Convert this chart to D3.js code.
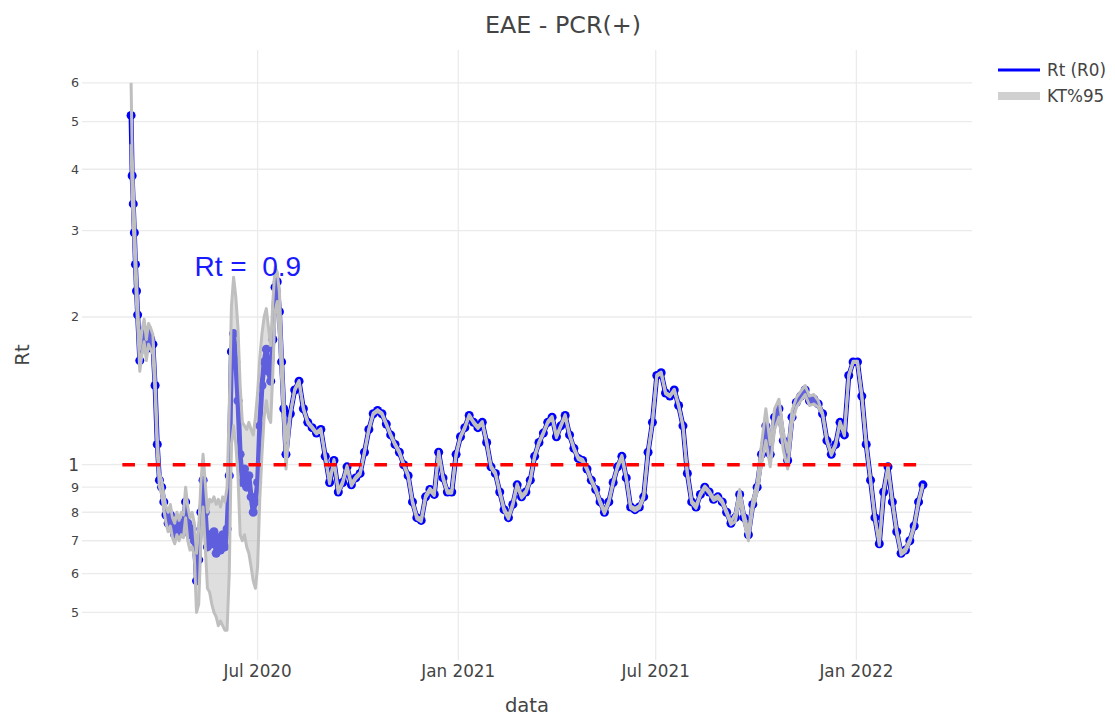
<!DOCTYPE html>
<html>
<head>
<meta charset="utf-8">
<script src="https://cdn.jsdelivr.net/npm/d3@7.9.0/dist/d3.min.js"></script>
<style>
  body { margin: 0; background: #fff; }
  svg text { font-family: "DejaVu Sans", Verdana, sans-serif; fill: #444; }
</style>
</head>
<body>
<svg id="chart" width="1115" height="715"></svg>
<script>
// daily at the start, then every 2 days, then every 4 days
const dates = [
  '2020-03-07','2020-03-08','2020-03-09','2020-03-10','2020-03-11','2020-03-12','2020-03-13','2020-03-15','2020-03-17','2020-03-19','2020-03-21','2020-03-23','2020-03-25','2020-03-27','2020-03-29','2020-03-31',
  '2020-04-02','2020-04-04','2020-04-06','2020-04-08','2020-04-10','2020-04-12','2020-04-14','2020-04-16','2020-04-18','2020-04-20','2020-04-22','2020-04-24','2020-04-26','2020-04-28','2020-04-30',
  '2020-05-02','2020-05-04','2020-05-06','2020-05-08','2020-05-10','2020-05-12','2020-05-14','2020-05-16','2020-05-18','2020-05-20','2020-05-22','2020-05-24','2020-05-26','2020-05-28','2020-05-30',
  '2020-06-01','2020-06-03','2020-06-05','2020-06-07','2020-06-09','2020-06-11','2020-06-13','2020-06-15','2020-06-17','2020-06-19','2020-06-21','2020-06-23','2020-06-25','2020-06-27','2020-06-29',
  '2020-07-01','2020-07-03','2020-07-05','2020-07-07','2020-07-09','2020-07-11','2020-07-13','2020-07-15','2020-07-17','2020-07-19','2020-07-21','2020-07-23','2020-07-25','2020-07-27','2020-07-31',
  '2020-08-04','2020-08-08','2020-08-12','2020-08-16','2020-08-20','2020-08-24','2020-08-28',
  '2020-09-01','2020-09-05','2020-09-09','2020-09-13','2020-09-17','2020-09-21','2020-09-25','2020-09-29',
  '2020-10-03','2020-10-07','2020-10-11','2020-10-15','2020-10-19','2020-10-23','2020-10-27','2020-10-31',
  '2020-11-04','2020-11-08','2020-11-12','2020-11-16','2020-11-20','2020-11-24','2020-11-28',
  '2020-12-02','2020-12-06','2020-12-10','2020-12-14','2020-12-18','2020-12-22','2020-12-26','2020-12-30',
  '2021-01-03','2021-01-07','2021-01-11','2021-01-15','2021-01-19','2021-01-23','2021-01-27','2021-01-31',
  '2021-02-04','2021-02-08','2021-02-12','2021-02-16','2021-02-20','2021-02-24','2021-02-28',
  '2021-03-04','2021-03-08','2021-03-12','2021-03-16','2021-03-20','2021-03-24','2021-03-28',
  '2021-04-01','2021-04-05','2021-04-09','2021-04-13','2021-04-17','2021-04-21','2021-04-25','2021-04-29',
  '2021-05-03','2021-05-07','2021-05-11','2021-05-15','2021-05-19','2021-05-23','2021-05-27','2021-05-31',
  '2021-06-04','2021-06-08','2021-06-12','2021-06-16','2021-06-20','2021-06-24','2021-06-28',
  '2021-07-02','2021-07-06','2021-07-10','2021-07-14','2021-07-18','2021-07-22','2021-07-26','2021-07-30',
  '2021-08-03','2021-08-07','2021-08-11','2021-08-15','2021-08-19','2021-08-23','2021-08-27','2021-08-31',
  '2021-09-04','2021-09-08','2021-09-12','2021-09-16','2021-09-20','2021-09-24','2021-09-28',
  '2021-10-02','2021-10-06','2021-10-10','2021-10-14','2021-10-18','2021-10-22','2021-10-26','2021-10-30',
  '2021-11-03','2021-11-07','2021-11-11','2021-11-15','2021-11-19','2021-11-23','2021-11-27',
  '2021-12-01','2021-12-05','2021-12-09','2021-12-13','2021-12-17','2021-12-21','2021-12-25','2021-12-29',
  '2022-01-02','2022-01-06','2022-01-10','2022-01-14','2022-01-18','2022-01-22','2022-01-26','2022-01-30',
  '2022-02-03','2022-02-07','2022-02-11','2022-02-15','2022-02-19','2022-02-23','2022-02-27',
  '2022-03-03'
];

const rt = [
  5.15,3.88,3.40,2.97,2.56,2.26,2.02,1.63,1.78,1.88,1.72,1.85,1.80,1.76,1.45,1.10,
  0.93,0.90,0.84,0.79,0.76,0.79,0.74,0.72,0.76,0.73,0.76,0.75,0.84,0.76,0.72,
  0.74,0.70,0.58,0.64,0.80,0.93,0.80,0.68,0.72,0.69,0.73,0.66,0.71,0.67,0.72,
  0.68,0.74,0.95,1.70,1.85,1.62,1.35,1.05,0.92,0.98,0.90,0.95,0.86,0.80,0.84,
  0.92,1.20,1.45,1.62,1.72,1.55,1.48,1.80,2.30,2.36,2.05,1.62,1.30,1.05,1.27,
  1.42,1.48,1.30,1.22,1.19,1.16,1.18,
  1.04,0.92,1.02,0.88,0.92,0.99,0.91,0.94,
  0.96,1.06,1.18,1.27,1.29,1.27,1.21,1.15,
  1.10,1.06,1.00,0.95,0.84,0.78,0.77,
  0.86,0.89,0.87,1.06,0.94,0.88,0.88,1.05,
  1.14,1.19,1.26,1.22,1.19,1.22,1.11,0.99,
  0.96,0.88,0.81,0.78,0.83,0.91,0.86,
  0.88,0.93,1.04,1.11,1.16,1.22,1.25,
  1.14,1.20,1.26,1.15,1.08,1.03,1.02,0.98,
  0.93,0.89,0.84,0.80,0.84,0.92,0.99,1.04,
  0.94,0.82,0.81,0.82,0.86,1.06,1.22,
  1.52,1.54,1.40,1.38,1.42,1.32,1.20,0.96,
  0.84,0.82,0.87,0.90,0.88,0.85,0.86,0.84,
  0.80,0.76,0.78,0.87,0.78,0.72,0.83,
  0.90,1.05,1.20,1.05,1.25,1.30,1.12,1.02,
  1.25,1.34,1.38,1.42,1.35,1.36,1.33,
  1.27,1.12,1.05,1.10,1.22,1.15,1.52,1.62,
  1.62,1.38,1.10,0.93,0.78,0.69,0.88,0.99,
  0.84,0.73,0.66,0.67,0.70,0.75,0.84,
  0.91
];

const ciLow = [
  4.50,3.50,3.10,2.75,2.40,2.12,1.92,1.55,1.68,1.78,1.63,1.76,1.72,1.68,1.40,1.06,
  0.90,0.87,0.81,0.76,0.73,0.75,0.71,0.69,0.72,0.70,0.72,0.71,0.78,0.70,0.67,
  0.68,0.65,0.50,0.52,0.70,0.82,0.68,0.56,0.55,0.52,0.50,0.49,0.47,0.48,0.47,
  0.46,0.46,0.60,1.10,1.20,1.10,0.95,0.72,0.70,0.72,0.68,0.66,0.62,0.58,0.56,
  0.62,0.85,1.05,1.25,1.35,1.25,1.22,1.55,2.05,2.15,1.85,1.50,1.22,0.98,1.265,
  1.415,1.475,1.295,1.215,1.185,1.155,1.175,
  1.035,0.915,1.015,0.875,0.915,0.985,0.905,0.935,
  0.955,1.055,1.175,1.265,1.285,1.265,1.205,1.145,
  1.095,1.055,0.995,0.945,0.835,0.775,0.765,
  0.855,0.885,0.865,1.055,0.935,0.875,0.875,1.045,
  1.135,1.185,1.255,1.215,1.185,1.215,1.105,0.985,
  0.955,0.875,0.805,0.775,0.825,0.905,0.855,
  0.875,0.925,1.035,1.105,1.155,1.215,1.245,
  1.135,1.195,1.255,1.145,1.075,1.025,1.015,0.975,
  0.925,0.885,0.835,0.795,0.835,0.915,0.985,1.035,
  0.935,0.815,0.805,0.815,0.855,1.055,1.215,
  1.515,1.535,1.395,1.375,1.415,1.315,1.195,0.955,
  0.835,0.815,0.865,0.895,0.875,0.845,0.855,0.835,
  0.795,0.755,0.765,0.85,0.765,0.70,0.815,
  0.88,1.00,1.12,0.99,1.18,1.25,1.07,0.98,
  1.21,1.31,1.35,1.39,1.32,1.33,1.31,
  1.265,1.115,1.045,1.095,1.215,1.145,1.515,1.615,
  1.615,1.375,1.095,0.925,0.775,0.685,0.875,0.985,
  0.835,0.725,0.655,0.665,0.695,0.745,0.835,
  0.905
];

const ciHigh = [
  6.00,4.30,3.70,3.20,2.75,2.40,2.12,1.72,1.88,1.98,1.80,1.94,1.90,1.84,1.52,1.14,
  0.96,0.93,0.87,0.82,0.80,0.83,0.78,0.76,0.80,0.77,0.80,0.79,0.90,0.82,0.78,
  0.80,0.76,0.66,0.74,0.92,1.05,0.92,0.80,0.85,0.84,0.86,0.83,0.85,0.82,0.86,
  0.84,0.90,1.30,2.10,2.41,2.20,1.90,1.45,1.22,1.20,1.18,1.22,1.18,1.15,1.25,
  1.40,1.65,1.85,2.00,2.08,1.90,1.75,2.15,2.53,2.47,2.25,1.75,1.38,1.12,1.275,
  1.425,1.485,1.305,1.225,1.195,1.165,1.185,
  1.045,0.925,1.025,0.885,0.925,0.995,0.915,0.945,
  0.965,1.065,1.185,1.275,1.295,1.275,1.215,1.155,
  1.105,1.065,1.005,0.955,0.845,0.785,0.775,
  0.865,0.895,0.875,1.065,0.945,0.885,0.885,1.055,
  1.145,1.195,1.265,1.225,1.195,1.225,1.115,0.995,
  0.965,0.885,0.815,0.785,0.835,0.915,0.865,
  0.885,0.935,1.045,1.115,1.165,1.225,1.255,
  1.145,1.205,1.265,1.155,1.085,1.035,1.025,0.985,
  0.935,0.895,0.845,0.805,0.845,0.925,0.995,1.045,
  0.945,0.825,0.815,0.825,0.865,1.065,1.225,
  1.525,1.545,1.405,1.385,1.425,1.325,1.205,0.965,
  0.845,0.825,0.875,0.905,0.885,0.855,0.865,0.845,
  0.805,0.765,0.795,0.89,0.795,0.73,0.845,
  0.92,1.10,1.30,1.10,1.30,1.36,1.17,1.06,
  1.29,1.37,1.41,1.45,1.38,1.39,1.35,
  1.275,1.125,1.055,1.105,1.225,1.155,1.525,1.625,
  1.625,1.385,1.105,0.935,0.785,0.695,0.885,0.995,
  0.845,0.735,0.665,0.675,0.705,0.755,0.845,
  0.915
];

// reference line Rt = 1
const refDates = ['2020-02-28', '2022-03-03'];
const refValues = [1, 1];

const xDomain = ['2020-01-22', '2022-04-17'];
const yDomain = [0.4, 7];
const xTicks = ['2020-07-01', '2021-01-01', '2021-07-01', '2022-01-01'];
const xTickLabels = ['Jul 2020', 'Jan 2021', 'Jul 2021', 'Jan 2022'];
const yTicks = [0.5, 0.6, 0.7, 0.8, 0.9, 1, 2, 3, 4, 5, 6];
const yTickLabels = ['5', '6', '7', '8', '9', '1', '2', '3', '4', '5', '6'];

const noteDate = '2020-06-22';
const noteValue = 2.54;
const noteText = 'Rt =  0.9';

const parse = d3.utcParse('%Y-%m-%d');
const svg = d3.select('#chart');

const x = d3.scaleUtc().domain(xDomain.map(parse)).range([82, 972]);
const y = d3.scaleLog().domain(yDomain).range([660, 50]);

if (rt.length !== dates.length || ciLow.length !== dates.length || ciHigh.length !== dates.length) {
  console.error('length mismatch', dates.length, rt.length, ciLow.length, ciHigh.length);
}

const points = dates.map((d, i) => ({ date: parse(d), rt: rt[i], lo: ciLow[i], hi: ciHigh[i] }));

// grid
svg.append('g')
  .selectAll('line')
  .data(yTicks)
  .join('line')
  .attr('x1', 82).attr('x2', 972)
  .attr('y1', (d) => y(d)).attr('y2', (d) => y(d))
  .attr('stroke', '#ebebeb').attr('stroke-width', 1.3);

svg.append('g')
  .selectAll('line')
  .data(xTicks)
  .join('line')
  .attr('x1', (d) => x(parse(d))).attr('x2', (d) => x(parse(d)))
  .attr('y1', 50).attr('y2', 660)
  .attr('stroke', '#ebebeb').attr('stroke-width', 1.3);

// tick labels (log axis: only powers of ten at full size)
svg.append('g')
  .selectAll('text')
  .data(yTicks)
  .join('text')
  .attr('x', 79)
  .attr('y', (d) => y(d))
  .attr('text-anchor', 'end')
  .attr('dominant-baseline', 'central')
  .style('font-size', (d) => (d === 1 ? '17px' : '12.7px'))
  .text((d, i) => yTickLabels[i]);

svg.append('g')
  .selectAll('text')
  .data(xTicks)
  .join('text')
  .attr('x', (d) => x(parse(d)))
  .attr('y', 677)
  .attr('text-anchor', 'middle')
  .style('font-size', '16.8px')
  .text((d, i) => xTickLabels[i]);

// Rt line with markers
const line = d3.line().x((d) => x(d.date)).y((d) => y(d.rt));
svg.append('path')
  .attr('d', line(points))
  .attr('fill', 'none')
  .attr('stroke', '#0000ff')
  .attr('stroke-width', 5)
  .attr('stroke-linejoin', 'round')
  .attr('stroke-linecap', 'round');

svg.append('g')
  .selectAll('circle')
  .data(points)
  .join('circle')
  .attr('cx', (d) => x(d.date))
  .attr('cy', (d) => y(d.rt))
  .attr('r', 4.5)
  .attr('fill', '#0000ff');

// confidence band
const area = d3.area().x((d) => x(d.date)).y0((d) => y(d.lo)).y1((d) => y(d.hi));
svg.append('path')
  .attr('d', area(points))
  .attr('fill', 'rgba(190,190,190,0.5)');

const loLine = d3.line().x((d) => x(d.date)).y((d) => y(d.lo));
const hiLine = d3.line().x((d) => x(d.date)).y((d) => y(d.hi));
[loLine, hiLine].forEach((gen) => {
  svg.append('path')
    .attr('d', gen(points))
    .attr('fill', 'none')
    .attr('stroke', '#bfbfbf')
    .attr('stroke-width', 3)
    .attr('stroke-linejoin', 'round');
});

// Rt = 1 reference
svg.append('path')
  .attr('d', d3.line().x((d) => x(parse(d))).y((d, i) => y(refValues[i]))(refDates))
  .attr('stroke', '#ff0000')
  .attr('stroke-width', 3.5)
  .attr('stroke-dasharray', '12.6,12.6')
  .attr('fill', 'none');

// annotation
svg.append('text')
  .attr('x', x(parse(noteDate)))
  .attr('y', y(noteValue))
  .attr('text-anchor', 'middle')
  .attr('dominant-baseline', 'central')
  .style('font-family', 'Arial, "Liberation Sans", sans-serif')
  .style('font-size', '28px')
  .style('white-space', 'pre')
  .style('fill', '#1a1aff')
  .text(noteText);

// titles
svg.append('text')
  .attr('x', 563).attr('y', 25)
  .attr('text-anchor', 'middle')
  .attr('dominant-baseline', 'central')
  .style('font-size', '23.8px')
  .text('EAE - PCR(+)');

svg.append('text')
  .attr('x', 527).attr('y', 705)
  .attr('text-anchor', 'middle')
  .attr('dominant-baseline', 'central')
  .style('font-size', '19.6px')
  .text('data');

svg.append('text')
  .attr('transform', 'translate(22,355) rotate(-90)')
  .attr('text-anchor', 'middle')
  .attr('dominant-baseline', 'central')
  .style('font-size', '19.6px')
  .text('Rt');

// legend
const legend = svg.append('g').attr('transform', 'translate(998,0)');
legend.append('line')
  .attr('x1', 0).attr('x2', 42).attr('y1', 70).attr('y2', 70)
  .attr('stroke', '#0000ff').attr('stroke-width', 2.8);
legend.append('text')
  .attr('x', 49).attr('y', 70)
  .attr('dominant-baseline', 'central')
  .style('font-size', '16.8px')
  .text('Rt (R0)');
legend.append('rect')
  .attr('x', 0).attr('y', 92).attr('width', 42).attr('height', 8)
  .attr('fill', '#d0d0d0');
legend.append('text')
  .attr('x', 49).attr('y', 96)
  .attr('dominant-baseline', 'central')
  .style('font-size', '16.8px')
  .text('KT%95');
</script>
</body>
</html>
